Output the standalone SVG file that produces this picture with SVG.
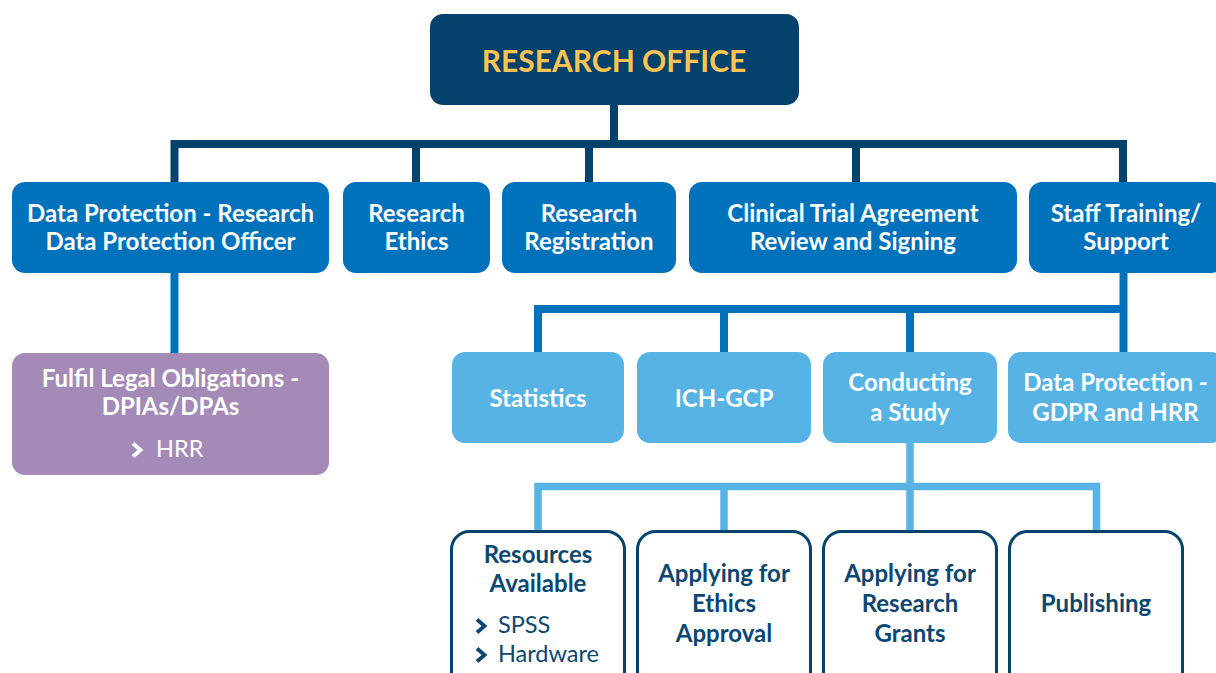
<svg xmlns="http://www.w3.org/2000/svg" width="1216" height="673" viewBox="0 0 1216 673">
  <style>
    .t { font-family: Lato, "Open Sans", "Liberation Sans", sans-serif; text-anchor: middle; font-weight: 700; font-size: 24px; }
    .s { font-family: Lato, "Open Sans", "Liberation Sans", sans-serif; font-weight: 400; font-size: 23.5px; }
    .navy { fill: #02426b; }
    .mid { fill: #0072bc; }
    .light { fill: #56b3e4; }
    .purple { fill: #a48bb7; }
    .outline { fill: #ffffff; stroke: #02426b; stroke-width: 3; }
    .w { fill: #ffffff; }
    .dk { fill: #0b4770; }
    .bw { stroke: #ffffff; }
    .bd { stroke: #0b4770; }
    .c1 { fill: none; stroke: #02426b; stroke-width: 8; stroke-linejoin: miter; }
    .c2 { fill: none; stroke: #0072bc; stroke-width: 8; stroke-linejoin: miter; }
    .c3 { fill: none; stroke: #56b3e4; stroke-width: 7.5; stroke-linejoin: miter; }
  </style>
  <defs>
    <!-- list bullet chevron -->
    <path id="bullet" d="M0,0 L7.5,6.5 L0,13" fill="none" stroke-width="3.8" stroke-linejoin="miter"/>
  </defs>

  <!-- connectors -->
  <g id="connectors">
    <path class="c1" d="M614,105 V144"/>
    <path class="c1" d="M174.5,182 V144 H1123 V182"/>
    <path class="c1" d="M416,144 V182"/>
    <path class="c1" d="M589,144 V182"/>
    <path class="c1" d="M856,144 V182"/>
    <path class="c2" d="M174.5,273 V353"/>
    <path class="c2" d="M1123.5,273 V352"/>
    <path class="c2" d="M538,352 V309 H1123.5"/>
    <path class="c2" d="M724,309 V352"/>
    <path class="c2" d="M910,309 V352"/>
    <path class="c3" d="M910,443 V531"/>
    <path class="c3" d="M538,531 V486.5 H1096.5 V531"/>
    <path class="c3" d="M724,486.5 V531"/>
  </g>

  <!-- top -->
  <g id="research-office">
    <rect class="navy" x="430" y="14" width="369" height="91" rx="13"/>
    <text class="t" x="614" y="72" style="font-size:30px" fill="#fcc354">RESEARCH OFFICE</text>
  </g>

  <!-- second row -->
  <g id="data-protection-officer">
    <rect class="mid" x="12" y="182" width="317" height="91" rx="13"/>
    <text class="t w" x="170.5" y="222">Data Protection - Research</text>
    <text class="t w" x="170.5" y="250">Data Protection Officer</text>
  </g>
  <g id="research-ethics">
    <rect class="mid" x="343" y="182" width="147" height="91" rx="13"/>
    <text class="t w" x="416.5" y="222">Research</text>
    <text class="t w" x="416.5" y="250">Ethics</text>
  </g>
  <g id="research-registration">
    <rect class="mid" x="502" y="182" width="174" height="91" rx="13"/>
    <text class="t w" x="589" y="222">Research</text>
    <text class="t w" x="589" y="250">Registration</text>
  </g>
  <g id="clinical-trial">
    <rect class="mid" x="689" y="182" width="328" height="91" rx="13"/>
    <text class="t w" x="853" y="222">Clinical Trial Agreement</text>
    <text class="t w" x="853" y="250">Review and Signing</text>
  </g>
  <g id="staff-training">
    <rect class="mid" x="1029" y="182" width="195" height="91" rx="13"/>
    <text class="t w" x="1126" y="222">Staff Training/</text>
    <text class="t w" x="1126" y="250">Support</text>
  </g>

  <!-- legal obligations -->
  <g id="legal-obligations">
    <rect class="purple" x="12" y="353" width="317" height="122" rx="13"/>
    <text class="t w" x="170.5" y="387">Fulfil Legal Obligations -</text>
    <text class="t w" x="170.5" y="415">DPIAs/DPAs</text>
    <use href="#bullet" class="bw" x="133" y="443.5"/>
    <text class="s w" x="156" y="457">HRR</text>
  </g>

  <!-- third row -->
  <g id="statistics">
    <rect class="light" x="452" y="352" width="172" height="91" rx="13"/>
    <text class="t w" x="538" y="407">Statistics</text>
  </g>
  <g id="ich-gcp">
    <rect class="light" x="637" y="352" width="174" height="91" rx="13"/>
    <text class="t w" x="724" y="407">ICH-GCP</text>
  </g>
  <g id="conducting-study">
    <rect class="light" x="823" y="352" width="174" height="91" rx="13"/>
    <text class="t w" x="910" y="391">Conducting</text>
    <text class="t w" x="910" y="421">a Study</text>
  </g>
  <g id="data-protection-gdpr">
    <rect class="light" x="1008" y="352" width="216" height="91" rx="13"/>
    <text class="t w" x="1115.5" y="391">Data Protection -</text>
    <text class="t w" x="1115.5" y="421">GDPR and HRR</text>
  </g>

  <!-- fourth row -->
  <g id="resources-available">
    <rect class="outline" x="451.5" y="531.5" width="173" height="160" rx="18"/>
    <text class="t dk" x="538" y="563">Resources</text>
    <text class="t dk" x="538" y="592">Available</text>
    <use href="#bullet" class="bd" x="477" y="619.5"/>
    <text class="s dk" x="498" y="633">SPSS</text>
    <use href="#bullet" class="bd" x="477" y="648.5"/>
    <text class="s dk" x="498" y="662">Hardware</text>
  </g>
  <g id="ethics-approval">
    <rect class="outline" x="637.5" y="531.5" width="173" height="160" rx="18"/>
    <text class="t dk" x="724" y="582">Applying for</text>
    <text class="t dk" x="724" y="612">Ethics</text>
    <text class="t dk" x="724" y="642">Approval</text>
  </g>
  <g id="research-grants">
    <rect class="outline" x="823.5" y="531.5" width="173" height="160" rx="18"/>
    <text class="t dk" x="910" y="582">Applying for</text>
    <text class="t dk" x="910" y="612">Research</text>
    <text class="t dk" x="910" y="642">Grants</text>
  </g>
  <g id="publishing">
    <rect class="outline" x="1009.5" y="531.5" width="173" height="160" rx="18"/>
    <text class="t dk" x="1096" y="612">Publishing</text>
  </g>
</svg>
